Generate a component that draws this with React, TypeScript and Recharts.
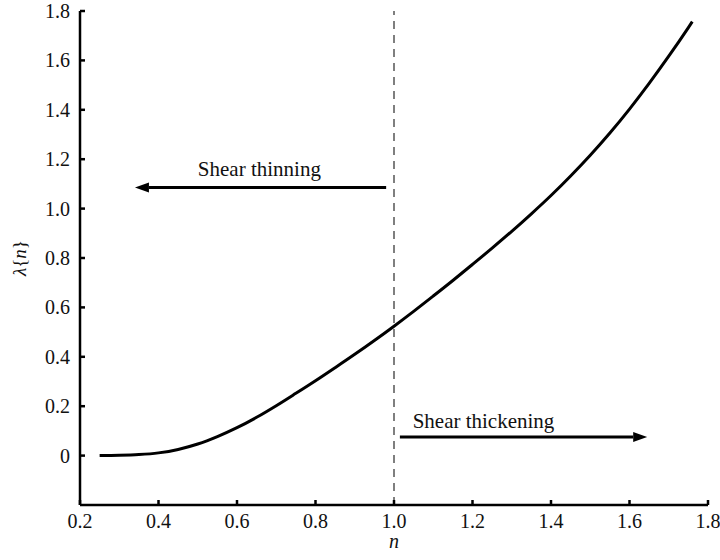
import React from 'react';
import { LineChart, Line, XAxis, YAxis, ReferenceLine, ReferenceDot } from 'recharts';

const nValues = [0.25, 0.3, 0.35, 0.4, 0.45, 0.5, 0.55, 0.6, 0.65, 0.7, 0.75, 0.8, 0.85, 0.9, 0.95, 1.0, 1.05, 1.1, 1.15, 1.2, 1.25, 1.3, 1.35, 1.4, 1.45, 1.5, 1.55, 1.6, 1.65, 1.7, 1.75, 1.76];
const lambdaValues = [0, 0.001, 0.004, 0.011, 0.025, 0.047, 0.077, 0.113, 0.155, 0.202, 0.252, 0.303, 0.356, 0.41, 0.466, 0.524, 0.584, 0.646, 0.709, 0.774, 0.84, 0.908, 0.979, 1.053, 1.132, 1.216, 1.306, 1.403, 1.507, 1.617, 1.733, 1.757];

const xTicks = [0.2, 0.4, 0.6, 0.8, 1.0, 1.2, 1.4, 1.6, 1.8];
const yTicks = [0, 0.2, 0.4, 0.6, 0.8, 1.0, 1.2, 1.4, 1.6, 1.8];

const thinningArrow = { from: { x: 0.98, y: 1.085 }, to: { x: 0.34, y: 1.085 } };
const thickeningArrow = { from: { x: 1.015, y: 0.075 }, to: { x: 1.645, y: 0.075 } };
const thinningLabel = { x: 0.657, y: 1.132, text: 'Shear thinning' };
const thickeningLabel = { x: 1.228, y: 0.11, text: 'Shear thickening' };

const data = nValues.map((n, i) => ({ n, lambda: lambdaValues[i] }));

const FONT = '"Liberation Serif", "Times New Roman", Times, serif';
const TICK_MARGIN = 9;
const TICK_LEN = 5;

const XTick = (props: any) => {
  const { x, y, payload } = props;
  const axisY = y - TICK_MARGIN;
  return (
    <g>
      <line x1={x} y1={axisY} x2={x} y2={axisY - TICK_LEN} stroke="#000" strokeWidth={2.5} />
      <text x={x} y={axisY + 23} textAnchor="middle" style={{ fontFamily: FONT, fontSize: 20 }} fill="#111">
        {Number(payload.value).toFixed(1)}
      </text>
    </g>
  );
};

const YTick = (props: any) => {
  const { x, y, payload } = props;
  const axisX = x + TICK_MARGIN;
  const v = Number(payload.value);
  return (
    <g>
      <line x1={axisX} y1={y} x2={axisX + TICK_LEN} y2={y} stroke="#000" strokeWidth={2.5} />
      <text x={x - 1} y={y + 7} textAnchor="end" style={{ fontFamily: FONT, fontSize: 20 }} fill="#111">
        {v === 0 ? '0' : v.toFixed(1)}
      </text>
    </g>
  );
};

const arrowShape = (props: any) => {
  const { x1, y1, x2, y2 } = props;
  const dir = Math.sign(x2 - x1);
  const headLen = 14;
  const headHalf = 5;
  const baseX = x2 - dir * headLen;
  return (
    <g>
      <line x1={x1} y1={y1} x2={baseX} y2={y2} stroke="#000" strokeWidth={3} />
      <polygon points={`${x2},${y2} ${baseX},${y2 - headHalf} ${baseX},${y2 + headHalf}`} fill="#000" />
    </g>
  );
};

const textShape = (text: string) => (props: any) => (
  <text x={props.cx} y={props.cy} textAnchor="middle" style={{ fontFamily: FONT, fontSize: 21 }} fill="#111">
    {text}
  </text>
);

const YLabel = (props: any) => {
  const vb = props.viewBox || {};
  const cx = 19;
  const cy = vb.y + vb.height / 2;
  return (
    <text
      x={cx}
      y={cy}
      transform={`rotate(-90, ${cx}, ${cy})`}
      textAnchor="middle"
      dominantBaseline="central"
      style={{ fontFamily: FONT, fontSize: 19 }}
      fill="#111"
    >
      <tspan fontStyle="italic">λ</tspan>
      <tspan>{'{'}</tspan>
      <tspan fontStyle="italic">n</tspan>
      <tspan>{'}'}</tspan>
    </text>
  );
};

const XLabel = (props: any) => {
  const vb = props.viewBox || {};
  const cx = vb.x + vb.width / 2;
  return (
    <text x={cx} y={548} textAnchor="middle" style={{ fontFamily: FONT, fontSize: 20, fontStyle: 'italic' }} fill="#111">
      n
    </text>
  );
};

export default function App() {
  return (
    <div style={{ position: 'absolute', left: 0, top: 0, width: 720, height: 560, background: '#fff' }}>
      <LineChart width={720} height={560} data={data} margin={{ top: 11, right: 12, bottom: 25, left: 18 }}>
        <XAxis
          dataKey="n"
          type="number"
          domain={[0.2, 1.8]}
          ticks={xTicks}
          allowDataOverflow
          height={30}
          tickSize={0}
          tickMargin={TICK_MARGIN}
          tick={<XTick />}
          axisLine={{ stroke: '#000', strokeWidth: 2.5 }}
          label={<XLabel />}
        />
        <YAxis
          type="number"
          domain={[-0.2, 1.8]}
          ticks={yTicks}
          allowDataOverflow
          width={62}
          tickSize={0}
          tickMargin={TICK_MARGIN}
          tick={<YTick />}
          axisLine={{ stroke: '#000', strokeWidth: 2.5 }}
          label={<YLabel />}
        />
        <ReferenceLine x={1.0} stroke="#555" strokeWidth={1.5} strokeDasharray="8 6" />
        <ReferenceLine segment={[thinningArrow.from, thinningArrow.to]} shape={arrowShape} />
        <ReferenceLine segment={[thickeningArrow.from, thickeningArrow.to]} shape={arrowShape} />
        <ReferenceDot x={thinningLabel.x} y={thinningLabel.y} r={0} shape={textShape(thinningLabel.text)} />
        <ReferenceDot x={thickeningLabel.x} y={thickeningLabel.y} r={0} shape={textShape(thickeningLabel.text)} />
        <Line
          type="monotone"
          dataKey="lambda"
          stroke="#000"
          strokeWidth={3}
          dot={false}
          isAnimationActive={false}
        />
      </LineChart>
    </div>
  );
}
